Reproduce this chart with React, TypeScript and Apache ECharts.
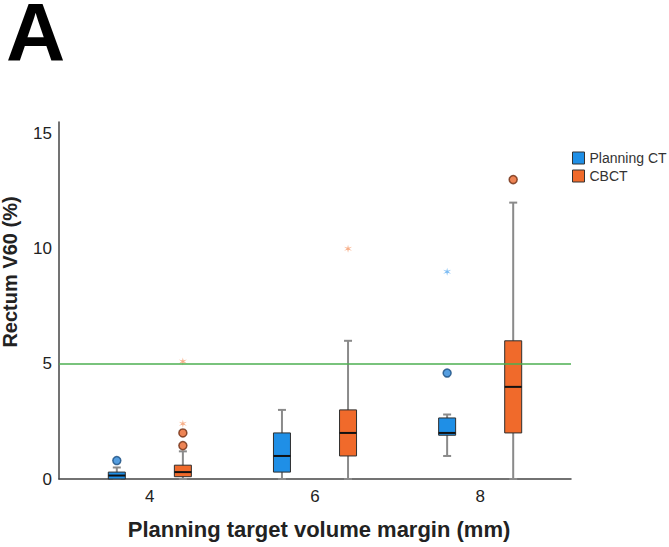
import React, { useEffect, useRef } from 'react';
import * as echarts from 'echarts';

// PTV margins (mm)
const margins = [4, 6, 8];
// [min, Q1, median, Q3, max]
const planningBoxes = [
  [0, 0, 0.15, 0.3, 0.5],
  [0, 0.3, 1.0, 2.0, 3.0],
  [1.0, 1.9, 2.0, 2.65, 2.8],
];
const cbctBoxes = [
  [0, 0.1, 0.3, 0.6, 1.2],
  [0, 1.0, 2.0, 3.0, 6.0],
  [0, 2.0, 4.0, 6.0, 12.0],
];
// [margin, value]
const planningOutliers = [[4, 0.8], [8, 4.6]];
const planningExtremes = [[8, 9.0]];
const cbctOutliers = [[4, 1.45], [4, 2.0], [8, 13.0]];
const cbctExtremes = [[4, 2.4], [4, 5.1], [6, 10.0]];
const yTicks = [0, 5, 10, 15];
const threshold = 5;

const BLUE = '#1f8fe6';
const ORANGE = '#f06a2b';
const OFFSET = 0.4;
const STAR =
  'path://M5 0 L5.7 3.8 L9.3 2.5 L6.3 5 L9.3 7.5 L5.7 6.2 L5 10 L4.3 6.2 L0.7 7.5 L3.7 5 L0.7 2.5 L4.3 3.8 Z';

const makeRender = (dx: number, fill: string) => (params: any, api: any) => {
  const x = api.value(0) + dx;
  const pMin = api.coord([x, api.value(1)]);
  const pQ1 = api.coord([x, api.value(2)]);
  const pMed = api.coord([x, api.value(3)]);
  const pQ3 = api.coord([x, api.value(4)]);
  const pMax = api.coord([x, api.value(5)]);
  const cx = pMin[0];
  const hw = 8.5;
  const cw = 4;
  const whisk = { stroke: '#8a8a8a', lineWidth: 2 };
  return {
    type: 'group',
    children: [
      { type: 'line', shape: { x1: cx, y1: pMin[1], x2: cx, y2: pMax[1] }, style: whisk },
      { type: 'line', shape: { x1: cx - cw, y1: pMax[1], x2: cx + cw, y2: pMax[1] }, style: whisk },
      { type: 'line', shape: { x1: cx - cw, y1: pMin[1], x2: cx + cw, y2: pMin[1] }, style: whisk },
      {
        type: 'rect',
        shape: { x: cx - hw, y: pQ3[1], width: hw * 2, height: pQ1[1] - pQ3[1] },
        style: { fill, stroke: '#2f2f2f', lineWidth: 1 },
      },
      {
        type: 'line',
        shape: { x1: cx - hw, y1: pMed[1], x2: cx + hw, y2: pMed[1] },
        style: { stroke: '#111', lineWidth: 2 },
      },
    ],
  };
};

export default function App() {
  const ref = useRef<HTMLDivElement>(null);
  useEffect(() => {
    const chart = echarts.init(ref.current!, null, { renderer: 'svg' });
    const font = 'Liberation Sans, Arial, sans-serif';
    chart.setOption({
      animation: false,
      textStyle: { fontFamily: font },
      grid: { left: 59, right: 98, top: 122, bottom: 68 },
      legend: {
        orient: 'vertical',
        left: 572,
        top: 151,
        padding: 0,
        itemWidth: 12,
        itemHeight: 12,
        itemGap: 4,
        icon: 'rect',
        textStyle: { fontSize: 14, color: '#333', fontFamily: font },
        data: [
          { name: 'Planning CT', itemStyle: { color: BLUE, borderColor: '#333', borderWidth: 1 } },
          { name: 'CBCT', itemStyle: { color: ORANGE, borderColor: '#333', borderWidth: 1 } },
        ],
      },
      xAxis: {
        type: 'value',
        min: 2.9,
        max: 9.1,
        axisLine: { show: true, onZero: false, lineStyle: { color: '#444', width: 1.5 } },
        axisTick: { show: false },
        splitLine: { show: false },
        axisLabel: { customValues: margins, fontSize: 17, color: '#222', margin: 9 },
      },
      yAxis: {
        type: 'value',
        min: 0,
        max: 15.5,
        axisLine: { show: true, lineStyle: { color: '#444', width: 1.5 } },
        axisTick: { show: false },
        splitLine: { show: false },
        axisLabel: { customValues: yTicks, fontSize: 17, color: '#222', margin: 7 },
      },
      graphic: [
        {
          type: 'text',
          x: 6,
          y: 31,
          style: {
            text: 'A',
            font: 'bold 82px Liberation Sans, Arial, sans-serif',
            lineHeight: 62,
            fill: '#000',
            textAlign: 'left',
            textVerticalAlign: 'middle',
          },
        },
        {
          type: 'text',
          x: 10,
          y: 272,
          rotation: Math.PI / 2,
          style: {
            text: 'Rectum V60 (%)',
            font: 'bold 20px Liberation Sans, Arial, sans-serif',
            fill: '#222',
            textAlign: 'center',
            textVerticalAlign: 'middle',
          },
        },
        {
          type: 'text',
          x: 319,
          y: 529,
          style: {
            text: 'Planning target volume margin (mm)',
            font: 'bold 22px Liberation Sans, Arial, sans-serif',
            fill: '#222',
            textAlign: 'center',
            textVerticalAlign: 'middle',
          },
        },
      ],
      series: [
        {
          name: 'Planning CT',
          type: 'custom',
          itemStyle: { color: BLUE },
          renderItem: makeRender(-OFFSET, BLUE),
          encode: { x: 0, y: [1, 2, 3, 4, 5] },
          data: margins.map((m, i) => [m, ...planningBoxes[i]]),
          markLine: {
            silent: true,
            symbol: 'none',
            label: { show: false },
            lineStyle: { color: '#4caf50', width: 1.5, type: 'solid' },
            data: [{ yAxis: threshold }],
          },
          z: 2,
        },
        {
          name: 'CBCT',
          type: 'custom',
          itemStyle: { color: ORANGE },
          renderItem: makeRender(OFFSET, ORANGE),
          encode: { x: 0, y: [1, 2, 3, 4, 5] },
          data: margins.map((m, i) => [m, ...cbctBoxes[i]]),
          z: 2,
        },
        {
          name: 'Planning CT outliers',
          type: 'scatter',
          symbol: 'circle',
          symbolSize: 8,
          itemStyle: { color: '#2a86d8', borderColor: '#1a4e80', borderWidth: 1.5 },
          data: planningOutliers.map(([m, v]) => [m - OFFSET, v]),
          z: 3,
        },
        {
          name: 'CBCT outliers',
          type: 'scatter',
          symbol: 'circle',
          symbolSize: 8,
          itemStyle: { color: '#e8652b', borderColor: '#6e2c10', borderWidth: 1.5 },
          data: cbctOutliers.map(([m, v]) => [m + OFFSET, v]),
          z: 3,
        },
        {
          name: 'Planning CT extremes',
          type: 'scatter',
          symbol: STAR,
          symbolSize: 8,
          itemStyle: { color: '#5aaaf0' },
          data: planningExtremes.map(([m, v]) => [m - OFFSET, v]),
          z: 3,
        },
        {
          name: 'CBCT extremes',
          type: 'scatter',
          symbol: STAR,
          symbolSize: 8,
          itemStyle: { color: '#f59868' },
          data: cbctExtremes.map(([m, v]) => [m + OFFSET, v]),
          z: 3,
        },
      ],
    });
    return () => chart.dispose();
  }, []);
  return (
    <div
      ref={ref}
      style={{ position: 'fixed', left: 0, top: 0, width: 669, height: 547, background: '#fff' }}
    />
  );
}
